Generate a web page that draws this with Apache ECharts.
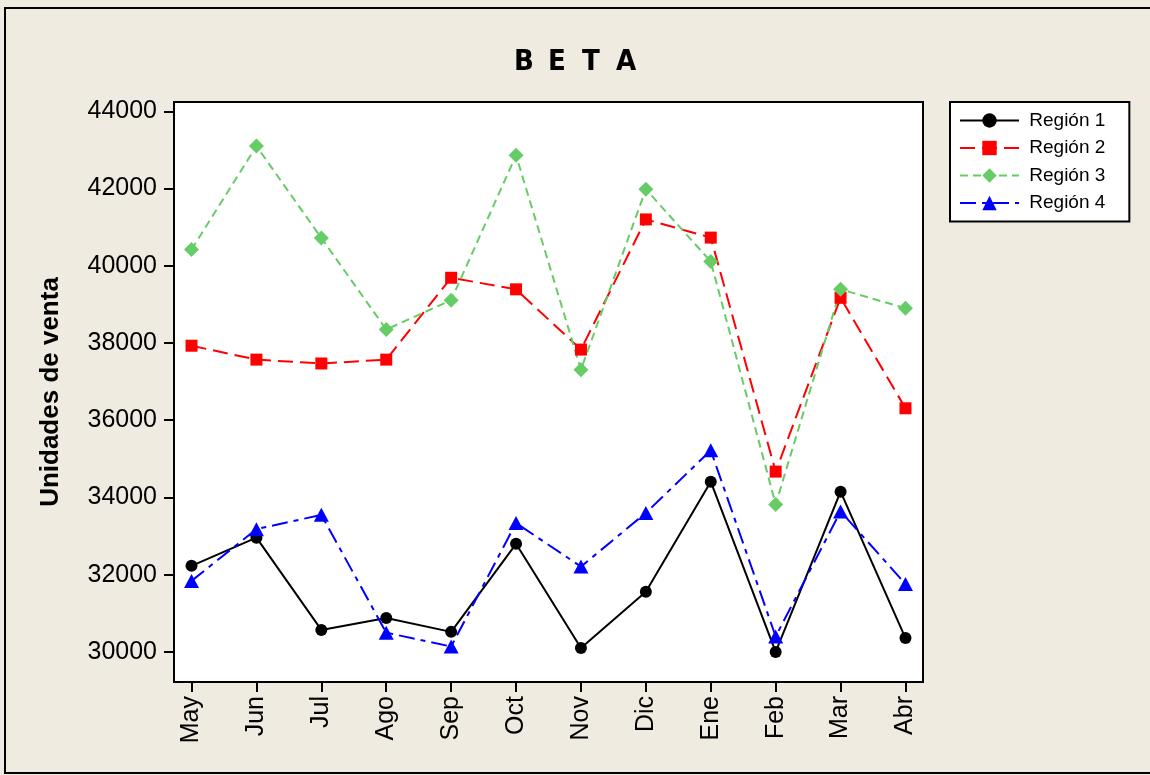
<!DOCTYPE html>
<html>
<head>
<meta charset="utf-8">
<script src="https://cdn.jsdelivr.net/npm/echarts@6/dist/echarts.min.js"></script>
<style>
  html, body { margin: 0; padding: 0; background: #F0EBE0; }
  #chart { width: 1150px; height: 775px; }
</style>
</head>
<body>
<div id="chart"></div>
<script>
var months = ['May', 'Jun', 'Jul', 'Ago', 'Sep', 'Oct', 'Nov', 'Dic', 'Ene', 'Feb', 'Mar', 'Abr'];
var region1 = [32230, 32960, 30570, 30880, 30520, 32800, 30100, 31560, 34410, 30000, 34150, 30360];
var region2 = [37930, 37570, 37470, 37570, 39690, 39390, 37830, 41200, 40730, 34670, 39170, 36310];
var region3 = [40420, 43100, 40720, 38350, 39110, 42860, 37310, 41980, 40110, 33820, 39390, 38900];
var region4 = [31840, 33180, 33550, 30500, 30140, 33340, 32210, 33600, 35220, 30400, 33640, 31760];
var yTicks = [30000, 32000, 34000, 36000, 38000, 40000, 42000, 44000];

var font = 'Liberation Sans, Arial, sans-serif';

function pairs(arr) {
    var out = [];
    for (var i = 0; i < arr.length; i++) out.push([i, arr[i]]);
    return out;
}

var myChart = echarts.init(document.getElementById('chart'));
var option = {
    animation: false,
    backgroundColor: '#F0EBE0',
    title: {
        text: '{l|B}{l|E}{l|T}{l|A}',
        left: 582,
        top: 48,
        textAlign: 'center',
        padding: 0,
        textStyle: {
            rich: {
                l: {
                    width: 34,
                    align: 'left',
                    fontSize: 29,
                    fontWeight: 'bold',
                    fontFamily: 'Liberation Sans Narrow, DejaVu Sans Condensed, Arial, sans-serif',
                    color: '#000'
                }
            }
        }
    },
    graphic: [{
        type: 'rect',
        shape: { x: 5, y: 8, width: 1160, height: 765 },
        style: { fill: 'none', stroke: '#000', lineWidth: 2 },
        silent: true
    }],
    legend: {
        left: 950,
        top: 102,
        orient: 'vertical',
        backgroundColor: '#fff',
        borderColor: '#000',
        borderWidth: 2,
        borderRadius: 0,
        padding: [9, 24, 9, 9],
        itemWidth: 59,
        itemHeight: 18,
        itemGap: 8.5,
        formatter: ' {name}',
        textStyle: { fontSize: 19, lineHeight: 19, fontFamily: font, color: '#000' },
        data: ['Región 1', 'Región 2', 'Región 3', 'Región 4']
    },
    grid: {
        show: true,
        left: 174,
        top: 102,
        right: 227,
        bottom: 93,
        backgroundColor: '#fff',
        borderColor: '#000',
        borderWidth: 2
    },
    xAxis: {
        type: 'value',
        min: -0.27,
        max: 11.27,
        splitLine: { show: false },
        axisLine: { show: true, onZero: false, lineStyle: { color: '#000', width: 2 } },
        axisTick: {
            show: true,
            length: 10,
            customValues: months.map(function (m, i) { return i; }),
            lineStyle: { color: '#000', width: 2 }
        },
        axisLabel: {
            rotate: 90,
            margin: 14,
            fontSize: 25,
            fontFamily: font,
            color: '#000',
            customValues: months.map(function (m, i) { return i; }),
            formatter: function (v) { return months[Math.round(v)]; }
        }
    },
    yAxis: {
        type: 'value',
        min: 29222,
        max: 44241,
        name: 'Unidades de venta',
        nameLocation: 'middle',
        nameGap: 110,
        nameTextStyle: { fontSize: 26, fontWeight: 'bold', fontFamily: font, color: '#000' },
        splitLine: { show: false },
        axisLine: { show: true, onZero: false, lineStyle: { color: '#000', width: 2 } },
        axisTick: {
            show: true,
            length: 10,
            customValues: yTicks,
            lineStyle: { color: '#000', width: 2 }
        },
        axisLabel: {
            margin: 17,
            fontSize: 25,
            fontFamily: font,
            color: '#000',
            customValues: yTicks,
            formatter: function (v) { return String(v); }
        }
    },
    series: [
        {
            name: 'Región 1',
            type: 'line',
            data: pairs(region1),
            symbol: 'circle',
            symbolSize: 12,
            itemStyle: { color: '#000' },
            lineStyle: { color: '#000', width: 2, type: 'solid' }
        },
        {
            name: 'Región 2',
            type: 'line',
            data: pairs(region2),
            symbol: 'rect',
            symbolSize: 12,
            itemStyle: { color: '#FF0000' },
            lineStyle: { color: '#FF0000', width: 2, type: [15, 7] }
        },
        {
            name: 'Región 3',
            type: 'line',
            data: pairs(region3),
            symbol: 'diamond',
            symbolSize: 15,
            itemStyle: { color: '#66CC66' },
            lineStyle: { color: '#66CC66', width: 2, type: [8, 5] }
        },
        {
            name: 'Región 4',
            type: 'line',
            data: pairs(region4),
            symbol: 'triangle',
            symbolSize: [15, 14],
            itemStyle: { color: '#0000FF' },
            lineStyle: { color: '#0000FF', width: 2, type: [16, 6, 5, 6] }
        }
    ]
};
option && myChart.setOption(option);
</script>
</body>
</html>
